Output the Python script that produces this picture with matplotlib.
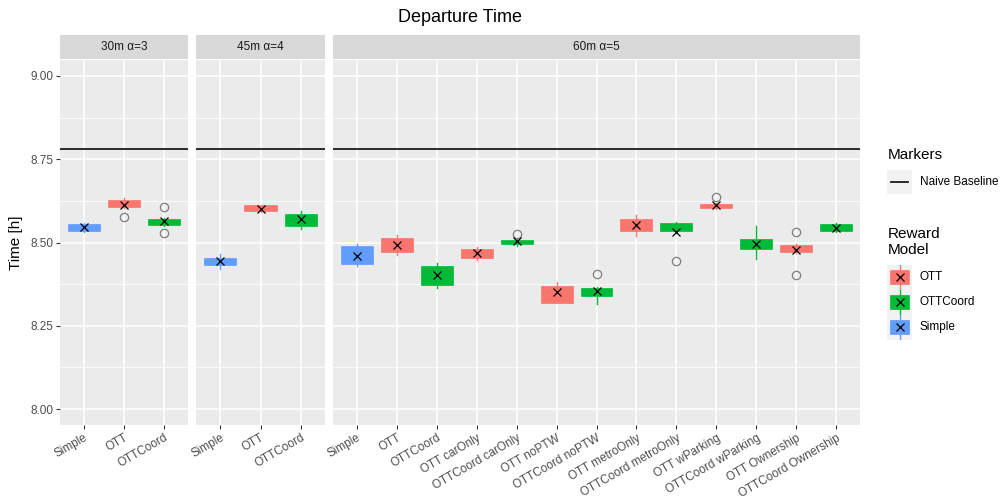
import matplotlib
matplotlib.use("Agg")
import matplotlib.pyplot as plt
import matplotlib.patches as patch
import numpy as np

plt.rcParams["font.family"] = ["Liberation Sans", "DejaVu Sans"]

# ---- data ----
panels = ["30m α=3", "45m α=4", "60m α=5"]
panel_cats = [
    ["Simple", "OTT", "OTTCoord"],
    ["Simple", "OTT", "OTTCoord"],
    ["Simple", "OTT", "OTTCoord", "OTT carOnly", "OTTCoord carOnly",
     "OTT noPTW", "OTTCoord noPTW", "OTT metroOnly", "OTTCoord metroOnly",
     "OTT wParking", "OTTCoord wParking", "OTT Ownership", "OTTCoord Ownership"],
]
models = ["Simple", "OTT", "OTTCoord",
          "Simple", "OTT", "OTTCoord",
          "Simple", "OTT", "OTTCoord", "OTT", "OTTCoord", "OTT", "OTTCoord",
          "OTT", "OTTCoord", "OTT", "OTTCoord", "OTT", "OTTCoord"]
q1 = [8.536, 8.606, 8.552,
      8.432, 8.596, 8.551,
      8.435, 8.470, 8.373, 8.454, 8.496, 8.319, 8.340, 8.534, 8.534, 8.603, 8.480, 8.471, 8.534]
q3 = [8.555, 8.627, 8.572,
      8.454, 8.612, 8.585,
      8.488, 8.515, 8.429, 8.480, 8.508, 8.368, 8.363, 8.572, 8.560, 8.616, 8.512, 8.493, 8.555]
whislo = [8.532, 8.603, 8.549,
          8.421, 8.592, 8.542,
          8.430, 8.462, 8.364, 8.447, 8.488, 8.319, 8.314, 8.520, 8.528, 8.601, 8.449, 8.468, 8.532]
whishi = [8.559, 8.634, 8.575,
          8.465, 8.614, 8.595,
          8.495, 8.523, 8.438, 8.487, 8.512, 8.382, 8.365, 8.582, 8.562, 8.618, 8.550, 8.496, 8.560]
medians = [8.546, 8.614, 8.565,
           8.444, 8.602, 8.570,
           8.455, 8.490, 8.400, 8.467, 8.503, 8.348, 8.356, 8.553, 8.548, 8.611, 8.496, 8.480, 8.544]
means = [8.546, 8.612, 8.564,
         8.444, 8.602, 8.570,
         8.458, 8.492, 8.402, 8.468, 8.504, 8.350, 8.355, 8.554, 8.531, 8.613, 8.496, 8.477, 8.544]
outliers = [[], [8.578], [8.606, 8.530],
            [], [], [],
            [], [], [], [], [8.526], [], [8.406], [], [8.444], [8.638], [], [8.533, 8.402], []]
baseline = 8.782

colors = {"OTT": "#F8766D", "OTTCoord": "#00BA38", "Simple": "#619CFF"}
W, H = 1001, 500
small = 8.5

fig = plt.figure(figsize=(W / 100, H / 100), dpi=100)

def px_axes(x0, y0, x1, y1):
    # pixel box (top-left origin) -> figure axes
    return fig.add_axes([x0 / W, 1 - y1 / H, (x1 - x0) / W, (y1 - y0) / H])

panel_px = [(60, 188), (196, 325), (333, 860)]
top, bottom = 60, 425
idx = 0
for p, (name, cats) in enumerate(zip(panels, panel_cats)):
    x0, x1 = panel_px[p]
    ax = px_axes(x0, top, x1, bottom)
    ax.set_facecolor("#EBEBEB")
    n = len(cats)
    ax.set_xlim(-0.6, n - 0.4)
    ax.set_ylim(7.952, 9.048)
    for y in [8.0, 8.25, 8.5, 8.75, 9.0]:
        ax.axhline(y, color="white", lw=1.1, zorder=0)
    for y in [8.125, 8.375, 8.625, 8.875]:
        ax.axhline(y, color="white", lw=0.55, zorder=0)
    for i in range(n):
        ax.axvline(i, color="white", lw=1.1, zorder=0)
    ax.axhline(baseline, color="#1a1a1a", lw=1.3, zorder=1)

    stats = []
    for i in range(n):
        k = idx + i
        stats.append(dict(med=medians[k], q1=q1[k], q3=q3[k], whislo=whislo[k],
                          whishi=whishi[k], fliers=outliers[k], mean=means[k]))
    bp = ax.bxp(stats, positions=list(range(n)), widths=0.8, patch_artist=True,
                showmeans=True, showcaps=False, manage_ticks=False,
                meanprops=dict(marker="x", markeredgecolor="black", markersize=6, markeredgewidth=0.9),
                flierprops=dict(marker="o", markerfacecolor="none", markeredgecolor="#7f7f7f",
                                markersize=6, markeredgewidth=0.9))
    for i in range(n):
        c = colors[models[idx + i]]
        bp["boxes"][i].set_facecolor(c)
        bp["boxes"][i].set_edgecolor(c)
        bp["boxes"][i].set_linewidth(0.5)
        bp["medians"][i].set_color(c)
        bp["whiskers"][2 * i].set_color(c)
        bp["whiskers"][2 * i + 1].set_color(c)
    idx += n

    for s in ax.spines.values():
        s.set_visible(False)
    ax.set_xticks(range(n))
    ax.set_xticklabels(cats, rotation=30, ha="right", rotation_mode="anchor",
                       fontsize=small, color="#4D4D4D")
    ax.tick_params(axis="x", length=3, color="#333333", pad=2)
    ax.set_yticks([8.0, 8.25, 8.5, 8.75, 9.0])
    if p == 0:
        ax.set_yticklabels(["8.00", "8.25", "8.50", "8.75", "9.00"], fontsize=small, color="#4D4D4D")
        ax.tick_params(axis="y", length=3, color="#333333", pad=2)
        ax.set_ylabel("Time [h]", fontsize=11, labelpad=5)
    else:
        ax.tick_params(axis="y", length=0, labelleft=False)

    # strip
    sx = px_axes(x0, 35, x1, 59)
    sx.set_facecolor("#D9D9D9")
    sx.set_xticks([]); sx.set_yticks([])
    for s in sx.spines.values():
        s.set_visible(False)
    sx.text(0.5, 0.5, name, ha="center", va="center", fontsize=small, color="#1A1A1A",
            transform=sx.transAxes)

fig.text(460 / W, 1 - 17 / H, "Departure Time", ha="center", va="center", fontsize=13)

# ---- legend ----
fig.text(888 / W, 1 - 155 / H, "Markers", ha="left", va="center", fontsize=11)
kx = px_axes(887, 170, 912, 194)
kx.set_facecolor("#F2F2F2")
kx.set_xlim(0, 1); kx.set_ylim(0, 1)
kx.plot([0.15, 0.85], [0.5, 0.5], color="#1a1a1a", lw=1.3)
kx.set_xticks([]); kx.set_yticks([])
for s in kx.spines.values():
    s.set_visible(False)
fig.text(920 / W, 1 - 182 / H, "Naive Baseline", ha="left", va="center", fontsize=small)

fig.text(888 / W, 1 - 242 / H, "Reward\nModel", ha="left", va="center", fontsize=11,
         linespacing=1.1)
for j, m in enumerate(["OTT", "OTTCoord", "Simple"]):
    cy = 277 + j * 25
    kx = px_axes(887, cy - 12.5, 912, cy + 12.5)
    kx.set_facecolor("#F2F2F2")
    kx.set_xlim(0, 1); kx.set_ylim(0, 1)
    kx.plot([0.5, 0.5], [0.0, 1.0], color=colors[m], lw=1.0, zorder=1)
    kx.add_patch(patch.Rectangle((0.12, 0.22), 0.76, 0.56, facecolor=colors[m],
                                 edgecolor=colors[m], lw=0.5, zorder=2))
    kx.plot([0.5], [0.5], marker="x", color="black", markersize=6, mew=0.9, zorder=3)
    kx.set_xticks([]); kx.set_yticks([])
    for s in kx.spines.values():
        s.set_visible(False)
    fig.text(920 / W, 1 - cy / H, m, ha="left", va="center", fontsize=small)

fig.savefig("out.png", dpi=100)
